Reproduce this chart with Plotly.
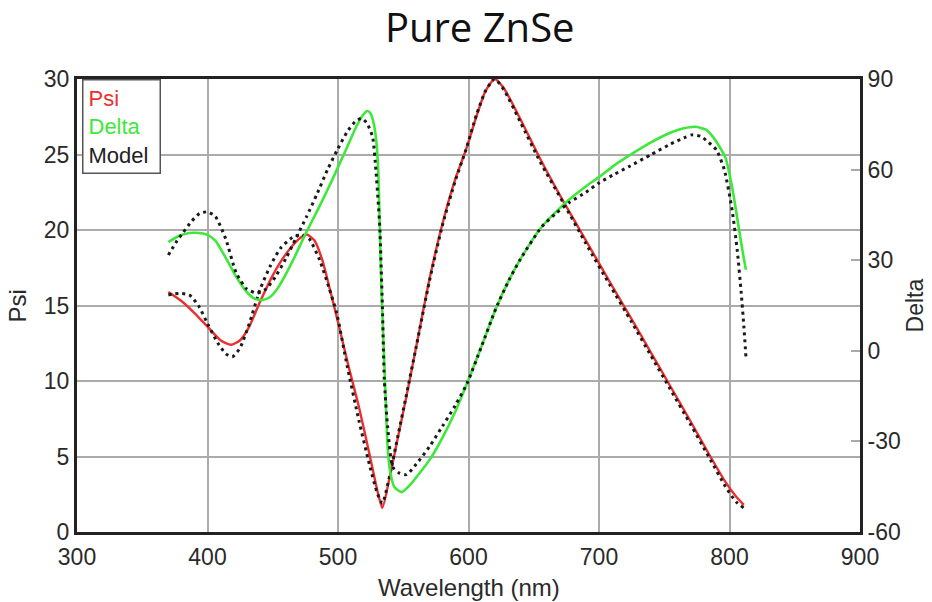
import plotly.graph_objects as go

# ---------------- data ----------------
psi_wl = [370, 380, 390, 400, 410, 418, 425, 432, 440, 450, 460, 470, 476, 482, 488, 494, 500, 508, 516, 524, 530, 534,
          540, 546, 552, 560, 570, 580, 590, 598, 606, 613, 620, 627, 640, 655, 672, 690, 708, 725, 740, 754, 770, 784, 797, 805, 811]
psi_val = [15.9, 15.3, 14.5, 13.6, 12.7, 12.4, 12.7, 13.6, 15.2, 17.0, 18.4, 19.4, 19.7, 19.3, 18.0, 16.0, 13.9, 11.0, 8.3, 5.2, 2.8, 1.6,
           3.8, 6.3, 8.8, 12.3, 16.7, 20.4, 23.4, 25.3, 27.5, 29.2, 30.0, 29.4, 27.3, 24.7, 22.0, 19.3, 16.6, 14.1, 11.85, 9.75, 7.35, 5.2, 3.3, 2.35, 1.8]

psi_model_wl = [370, 378, 386, 393, 400, 408, 414, 419, 425, 432, 440, 448, 456, 465, 472, 478, 486, 493, 499, 507, 516, 524, 530, 534,
                540, 546, 552, 560, 570, 580, 590, 598, 606, 613, 620, 627, 640, 655, 672, 690, 708, 725, 740, 754, 770, 784, 797, 805, 811]
psi_model_val = [15.7, 15.8, 15.7, 15.0, 13.8, 12.5, 11.8, 11.6, 12.2, 13.8, 16.0, 17.6, 18.8, 19.5, 19.7, 19.4, 18.0, 16.2, 14.5, 11.0, 7.4, 4.5, 2.6, 1.9,
                 3.9, 6.4, 8.9, 12.3, 16.6, 20.3, 23.3, 25.3, 27.6, 29.2, 30.0, 29.3, 27.1, 24.5, 21.9, 19.1, 16.4, 13.9, 11.65, 9.55, 7.15, 5.0, 3.0, 2.0, 1.6]

delta_wl = [370, 378, 386, 394, 400, 406, 415, 422, 430, 436, 442, 448, 455, 465, 476, 486, 496, 506, 514, 519, 522.5, 525, 527.5, 529.5,
            531, 532, 533, 534, 536, 538, 540, 543, 548.7, 555, 562, 570, 580, 590, 599, 610, 621, 631, 640, 656, 667, 677, 690, 700,
            712, 723, 738, 755, 765, 774, 782, 787, 792, 797, 802, 807, 810, 812.6]
delta_val = [36.0, 38.0, 39.0, 39.0, 38.4, 36.5, 30.0, 24.5, 19.5, 17.3, 16.8, 17.8, 21.5, 29.5, 39.5, 48.0, 57.0, 66.5, 74.2, 78.0, 79.4, 78.6, 75.0, 68.8,
             58.0, 41.0, 25.0, 12.5, -10.0, -31.8, -40.0, -45.0, -46.8, -44.5, -40.8, -36.2, -28.8, -20.0, -10.7, 1.5, 14.0, 23.4, 30.5, 41.0, 46.0, 50.0, 54.5, 57.5,
             61.5, 64.6, 68.6, 72.3, 73.7, 74.2, 73.2, 71.0, 67.8, 63.8, 54.2, 41.0, 33.0, 26.8]

delta_model_wl = [370, 376, 381, 388, 394, 400, 406, 414, 422, 430, 438, 445, 452, 460, 468, 476, 484, 492, 500, 507, 513, 518, 522, 526.5,
                  529, 531, 532, 534, 535.5, 538, 542, 547, 552.5, 560, 570, 580, 590, 599, 610, 621, 631, 640, 656, 667, 677, 690, 700,
                  712, 723, 740, 755, 765, 771, 778, 784, 790, 796, 802, 806, 809, 811, 812.6]
delta_model_val = [31.7, 36.0, 39.0, 43.0, 45.5, 46.0, 44.5, 37.0, 25.8, 20.5, 19.1, 20.5, 24.5, 30.5, 37.5, 44.5, 52.0, 60.0, 67.0, 72.5, 75.8, 77.0, 75.5, 70.8,
                   60.0, 48.0, 41.0, 15.0, -9.7, -25.0, -38.5, -40.5, -41.0, -37.5, -31.8, -25.0, -18.0, -10.7, 1.5, 14.0, 23.4, 30.5, 41.0, 45.5, 49.0, 52.5, 55.6,
                   58.5, 61.0, 65.0, 68.5, 70.5, 71.5, 71.0, 69.0, 66.5, 60.0, 46.6, 33.0, 19.1, 8.0, -2.0]

x_ticks = [300, 400, 500, 600, 700, 800, 900]
psi_ticks = [0, 5, 10, 15, 20, 25, 30]
delta_ticks = [-60, -30, 0, 30, 60, 90]
delta_tick_labels = ["-60", "-30", "0", "30", "60", "90"]

RED = "#ec2f2f"
GREEN = "#3ee83a"
DOT = "#1a1a1a"
FONT = "Arial"
TXT = "#2a2a2a"

fig = go.Figure()
fig.add_trace(go.Scatter(x=psi_wl, y=psi_val, mode="lines", name="Psi",
                         line=dict(color=RED, width=2.4, shape="spline", smoothing=0.6)))
fig.add_trace(go.Scatter(x=delta_wl, y=delta_val, mode="lines", name="Delta", yaxis="y2",
                         line=dict(color=GREEN, width=2.6, shape="spline", smoothing=0.6)))
fig.add_trace(go.Scatter(x=psi_model_wl, y=psi_model_val, mode="lines", name="Model",
                         line=dict(color=DOT, width=3, dash="3px,4px", shape="spline", smoothing=0.6)))
fig.add_trace(go.Scatter(x=delta_model_wl, y=delta_model_val, mode="lines", name="Model", yaxis="y2",
                         line=dict(color=DOT, width=3, dash="3px,4px", shape="spline", smoothing=0.6)))

fig.update_layout(
    width=916, height=594,
    margin=dict(l=69, r=64, t=71, b=70),
    paper_bgcolor="white", plot_bgcolor="white",
    showlegend=False,
    font=dict(family=FONT, color=TXT, size=23),
    title=dict(text="Pure ZnSe", x=0.515, xanchor="center", y=0.966, yanchor="middle",
               font=dict(family="Open Sans", size=40, color="#111")),
    xaxis=dict(range=[300, 900], tickvals=x_ticks, showgrid=True, gridcolor="#ababab", gridwidth=2,
               showline=True, linecolor="#222", linewidth=3, mirror=True, zeroline=False,
               ticks="", tickfont=dict(size=23), automargin=False, ticklabelstandoff=2),
    yaxis=dict(range=[0, 30], tickvals=psi_ticks, showgrid=True, gridcolor="#ababab", gridwidth=2,
               showline=True, linecolor="#222", linewidth=3, mirror=True, zeroline=False,
               ticks="", tickfont=dict(size=23), automargin=False),
    yaxis2=dict(range=[-60, 90], tickvals=delta_ticks, ticktext=delta_tick_labels, overlaying="y", side="right",
                showgrid=False, showline=True, linecolor="#222", linewidth=3, zeroline=False,
                ticks="inside", ticklen=9, tickcolor="#aaaaaa", tickwidth=2, tickfont=dict(size=23),
                automargin=False),
)

# axis titles
fig.add_annotation(xref="paper", yref="paper", x=0.5, y=-0.1236, xanchor="center", yanchor="middle",
                   text="Wavelength (nm)", showarrow=False, font=dict(family=FONT, size=24, color=TXT))
fig.add_annotation(xref="paper", yref="paper", x=-0.0754, y=0.5, xanchor="center", yanchor="middle",
                   text="Psi", textangle=-90, showarrow=False, font=dict(family=FONT, size=24, color=TXT))
fig.add_annotation(xref="paper", yref="paper", x=1.0702, y=0.5, xanchor="center", yanchor="middle",
                   text="Delta", textangle=-90, showarrow=False, font=dict(family=FONT, size=23, color=TXT))

# legend box (coloured text entries)
fig.add_annotation(
    xref="paper", yref="paper", x=0.006, y=0.999, xanchor="left", yanchor="top",
    text=f"<span style='color:{RED}'>Psi</span><br><span style='color:{GREEN}'>Delta</span><br><span style='color:#222'>Model\u00a0</span>",
    align="left", showarrow=False, font=dict(family=FONT, size=22),
    bordercolor="#555", borderwidth=1.5, borderpad=5, bgcolor="white",
)

fig.write_html("out.html")
